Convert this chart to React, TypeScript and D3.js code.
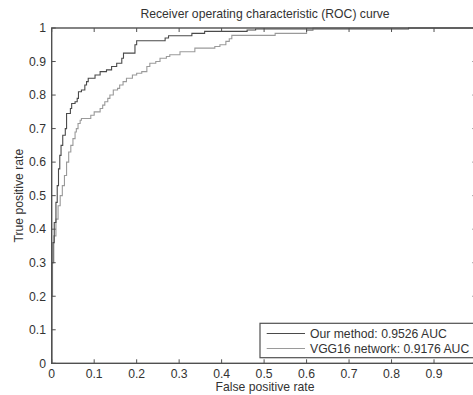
import React from "react";
import * as d3 from "d3";

const W = 473;
const H = 395;

const xTicks = [0, 0.1, 0.2, 0.3, 0.4, 0.5, 0.6, 0.7, 0.8, 0.9, 1];
const yTicks = [0, 0.1, 0.2, 0.3, 0.4, 0.5, 0.6, 0.7, 0.8, 0.9, 1];
// the "1" label of the x axis falls outside the cropped picture
const xTickLabels = ["0", "0.1", "0.2", "0.3", "0.4", "0.5", "0.6", "0.7", "0.8", "0.9"];
const yTickLabels = ["0", "0.1", "0.2", "0.3", "0.4", "0.5", "0.6", "0.7", "0.8", "0.9", "1"];

const seriesNames = ["Our method: 0.9526 AUC", "VGG16 network: 0.9176 AUC"];

// Our method ROC (fpr, tpr) corners
const ourFpr = [0, 0, 0.003, 0.006, 0.01, 0.013, 0.016, 0.019, 0.022, 0.026, 0.032, 0.035, 0.044, 0.047, 0.055, 0.06, 0.063, 0.07, 0.078, 0.082, 0.086, 0.102, 0.114, 0.129, 0.141, 0.153, 0.165, 0.169, 0.196, 0.2, 0.267, 0.275, 0.33, 0.36, 0.46, 0.48, 0.84, 1];
const ourTpr = [0, 0.3, 0.36, 0.42, 0.48, 0.53, 0.58, 0.62, 0.65, 0.68, 0.7, 0.745, 0.76, 0.775, 0.78, 0.79, 0.81, 0.815, 0.83, 0.84, 0.85, 0.86, 0.87, 0.875, 0.885, 0.895, 0.91, 0.925, 0.95, 0.962, 0.97, 0.977, 0.984, 0.99, 0.994, 0.997, 1, 1];

// VGG16 network ROC (fpr, tpr) corners
const vggFpr = [0, 0, 0.002, 0.005, 0.01, 0.015, 0.02, 0.025, 0.03, 0.035, 0.04, 0.045, 0.05, 0.055, 0.058, 0.062, 0.067, 0.07, 0.092, 0.1, 0.114, 0.12, 0.125, 0.132, 0.137, 0.145, 0.155, 0.16, 0.168, 0.176, 0.19, 0.2, 0.212, 0.224, 0.231, 0.245, 0.255, 0.27, 0.278, 0.302, 0.337, 0.384, 0.396, 0.41, 0.418, 0.424, 0.526, 0.6, 0.615, 1];
const vggTpr = [0, 0.2, 0.3, 0.38, 0.43, 0.47, 0.5, 0.53, 0.56, 0.6, 0.63, 0.65, 0.67, 0.69, 0.7, 0.715, 0.725, 0.73, 0.74, 0.75, 0.76, 0.77, 0.78, 0.79, 0.8, 0.815, 0.82, 0.83, 0.84, 0.85, 0.86, 0.865, 0.87, 0.885, 0.895, 0.9, 0.91, 0.915, 0.92, 0.929, 0.94, 0.945, 0.95, 0.96, 0.968, 0.978, 0.984, 0.993, 1, 1];

const colors = ["#4a4a4a", "#9a9a9a"];

export default function App() {
  React.useEffect(() => {
    document.body.style.margin = "0";
  }, []);

  const left = 51.7;
  const right = 476.5;
  const top = 28;
  const bottom = 363.3;

  const x = d3.scaleLinear().domain([0, 1]).range([left, right]);
  const y = d3.scaleLinear().domain([0, 1]).range([bottom, top]);

  const line = d3
    .line<[number, number]>()
    .x((d) => x(d[0]))
    .y((d) => y(d[1]))
    .curve(d3.curveStepAfter);

  const ourPts: [number, number][] = ourFpr.map((f, i) => [f, ourTpr[i]]);
  const vggPts: [number, number][] = vggFpr.map((f, i) => [f, vggTpr[i]]);

  const font = "'Liberation Sans', Arial, Helvetica, sans-serif";
  const axisColor = "#505050";
  const textColor = "#333";
  const fs = 12.2;
  const tl = 4;

  const legX = 260;
  const legY = 323.3;
  const legW = 216;
  const legH = 34.4;

  return (
    <svg width={W} height={H} style={{ display: "block", background: "#fff" }} fontFamily={font}>
      <rect x={0} y={0} width={W} height={H} fill="#fff" />
      <text x={265} y={18.3} textAnchor="middle" fontSize={fs} fill={textColor}>
        Receiver operating characteristic (ROC) curve
      </text>

      {/* curves */}
      <path d={line(vggPts) || ""} fill="none" stroke={colors[1]} strokeWidth={1.1} />
      <path d={line(ourPts) || ""} fill="none" stroke={colors[0]} strokeWidth={1.1} />

      {/* box */}
      <rect x={left} y={top} width={right - left} height={bottom - top} fill="none" stroke={axisColor} strokeWidth={1.4} />

      {/* ticks */}
      {xTicks.map((t, i) => (
        <g key={"xt" + i}>
          <line x1={x(t)} x2={x(t)} y1={bottom} y2={bottom - tl} stroke={axisColor} strokeWidth={1} />
          <line x1={x(t)} x2={x(t)} y1={top} y2={top + tl} stroke={axisColor} strokeWidth={1} />
          {xTickLabels[i] !== undefined && (
            <text x={x(t)} y={378.3} textAnchor="middle" fontSize={fs} fill={textColor}>
              {xTickLabels[i]}
            </text>
          )}
        </g>
      ))}
      {yTicks.map((t, i) => (
        <g key={"yt" + i}>
          <line x1={left} x2={left + tl} y1={y(t)} y2={y(t)} stroke={axisColor} strokeWidth={1} />
          <line x1={right} x2={right - tl} y1={y(t)} y2={y(t)} stroke={axisColor} strokeWidth={1} />
          <text x={46} y={y(t) + 4.3} textAnchor="end" fontSize={fs} fill={textColor}>
            {yTickLabels[i]}
          </text>
        </g>
      ))}

      <text x={265} y={391} textAnchor="middle" fontSize={fs} fill={textColor}>
        False positive rate
      </text>
      <text
        transform={`translate(22.5, ${(top + bottom) / 2}) rotate(-90)`}
        textAnchor="middle"
        fontSize={fs}
        fill={textColor}
      >
        True positive rate
      </text>

      {/* legend */}
      <rect x={legX} y={legY} width={legW} height={legH} fill="#fff" stroke={axisColor} strokeWidth={1.2} />
      {seriesNames.map((n, i) => (
        <g key={"lg" + i}>
          <line x1={266.7} x2={305} y1={333.5 + i * 15} y2={333.5 + i * 15} stroke={colors[i]} strokeWidth={1.1} />
          <text x={310} y={337.8 + i * 15.6} fontSize={fs} fill={textColor}>
            {n}
          </text>
        </g>
      ))}
    </svg>
  );
}
